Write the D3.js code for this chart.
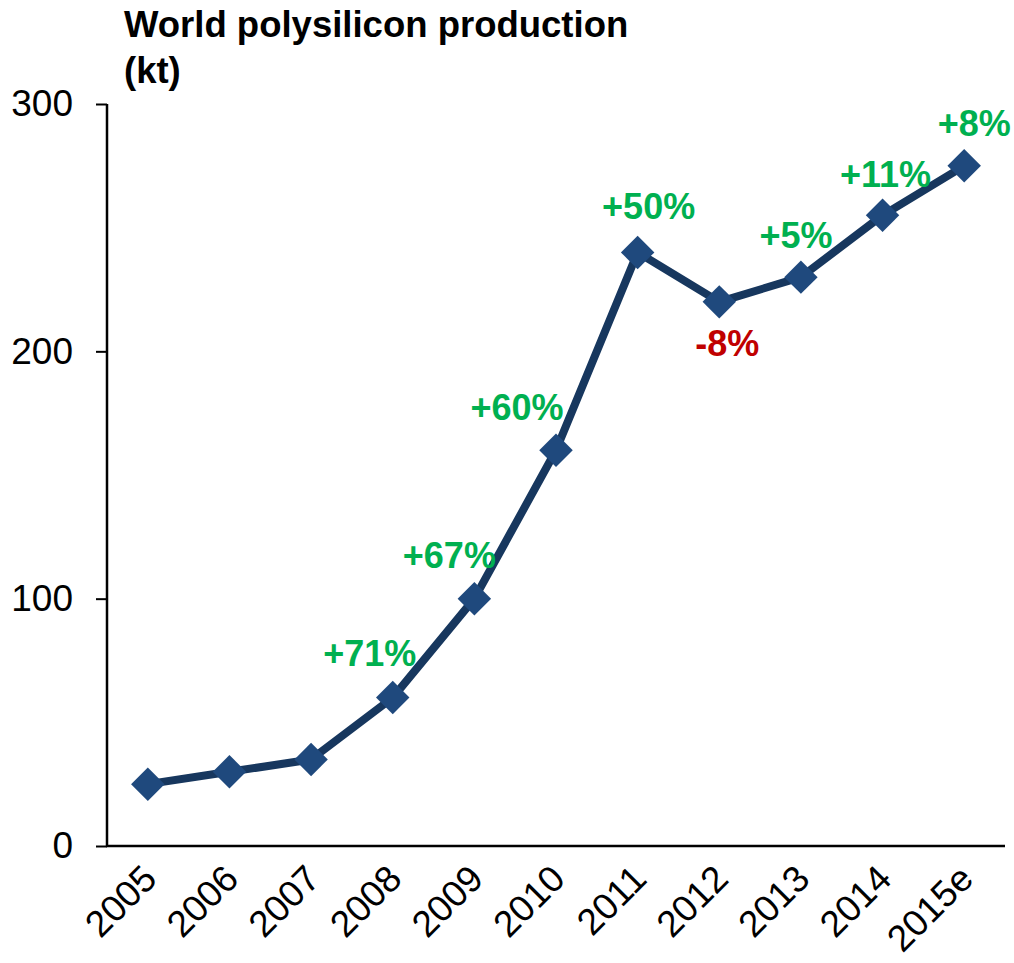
<!DOCTYPE html>
<html>
<head>
<meta charset="utf-8">
<script src="https://cdn.jsdelivr.net/npm/d3@7"></script>
<style>
  html, body { margin: 0; padding: 0; background: #fff; }
  svg { display: block; font-family: "Liberation Sans", Arial, sans-serif; }
</style>
</head>
<body>
<svg id="chart" width="1014" height="963"></svg>
<script>
// ---- data ----
const years = ["2005", "2006", "2007", "2008", "2009", "2010", "2011", "2012", "2013", "2014", "2015e"];
const production = [25, 30, 35, 60, 100, 160, 240, 220, 230, 255, 275];
const growthLabels = [null, null, null, "+71%", "+67%", "+60%", "+50%", "-8%", "+5%", "+11%", "+8%"];
const yTicks = [0, 100, 200, 300];
const titleLines = ["World polysilicon production", "(kt)"];

// ---- layout (label offsets relative to each point) ----
const labelOffsets = [null, null, null, [-23, -32], [-25, -31], [-39, -30], [11, -33], [8, 54], [-5, -29], [3, -28], [10, -30]];

const svg = d3.select("#chart");
const margin = { left: 107, right: 1005, top: 104, bottom: 846 };

const x = d3.scaleBand().domain(years).range([margin.left, margin.right]);
const y = d3.scaleLinear().domain([0, 300]).range([margin.bottom, margin.top]);

// title
svg.append("g").selectAll("text").data(titleLines).join("text")
  .attr("x", 124)
  .attr("y", (d, i) => 37 + i * 46)
  .attr("font-size", 36.5)
  .attr("font-weight", "bold")
  .attr("fill", "#000")
  .text(d => d);

// y axis
const yAxis = svg.append("g")
  .attr("transform", `translate(${margin.left},0)`)
  .call(d3.axisLeft(y).tickValues(yTicks).tickSize(11).tickPadding(23).tickFormat(d3.format("d")));
yAxis.select(".domain").attr("stroke", "#000").attr("stroke-width", 2.5).attr("d", `M0,${margin.top}V${margin.bottom}`);
yAxis.selectAll(".tick line").attr("stroke", "#000").attr("stroke-width", 2);
yAxis.selectAll(".tick text").attr("font-size", 37).attr("fill", "#000").attr("font-family", "Liberation Sans, Arial, sans-serif");

// x axis
const xAxis = svg.append("g")
  .attr("transform", `translate(0,${margin.bottom})`)
  .call(d3.axisBottom(x).tickSize(0).tickPadding(0));
xAxis.select(".domain").attr("stroke", "#000").attr("stroke-width", 2.5).attr("d", `M${margin.left - 1},0H${margin.right}`);
xAxis.selectAll(".tick text")
  .attr("font-size", 37)
  .attr("fill", "#000")
  .attr("font-family", "Liberation Sans, Arial, sans-serif")
  .attr("text-anchor", "end")
  .attr("dy", 0)
  .attr("transform", "translate(11,35) rotate(-45)")
  .attr("y", 0);

// line
const pts = years.map((yr, i) => ({ yr, v: production[i], i }));
const line = d3.line()
  .x(d => x(d.yr) + x.bandwidth() / 2)
  .y(d => y(d.v));

svg.append("path")
  .datum(pts)
  .attr("d", line)
  .attr("fill", "none")
  .attr("stroke", "#17375E")
  .attr("stroke-width", 8)
  .attr("stroke-linejoin", "round");

// markers (diamonds)
const symbol = d3.symbol().type(d3.symbolSquare).size(560);
svg.append("g").selectAll("path").data(pts).join("path")
  .attr("d", symbol)
  .attr("transform", d => `translate(${x(d.yr) + x.bandwidth() / 2},${y(d.v)}) rotate(45)`)
  .attr("fill", "#1F497D");

// growth labels
svg.append("g").selectAll("text").data(pts.filter(d => growthLabels[d.i]))
  .join("text")
  .attr("x", d => x(d.yr) + x.bandwidth() / 2 + labelOffsets[d.i][0])
  .attr("y", d => y(d.v) + labelOffsets[d.i][1])
  .attr("text-anchor", "middle")
  .attr("font-size", 36)
  .attr("font-weight", "bold")
  .attr("fill", d => growthLabels[d.i].startsWith("-") ? "#C00000" : "#00B050")
  .text(d => growthLabels[d.i]);
</script>
</body>
</html>
